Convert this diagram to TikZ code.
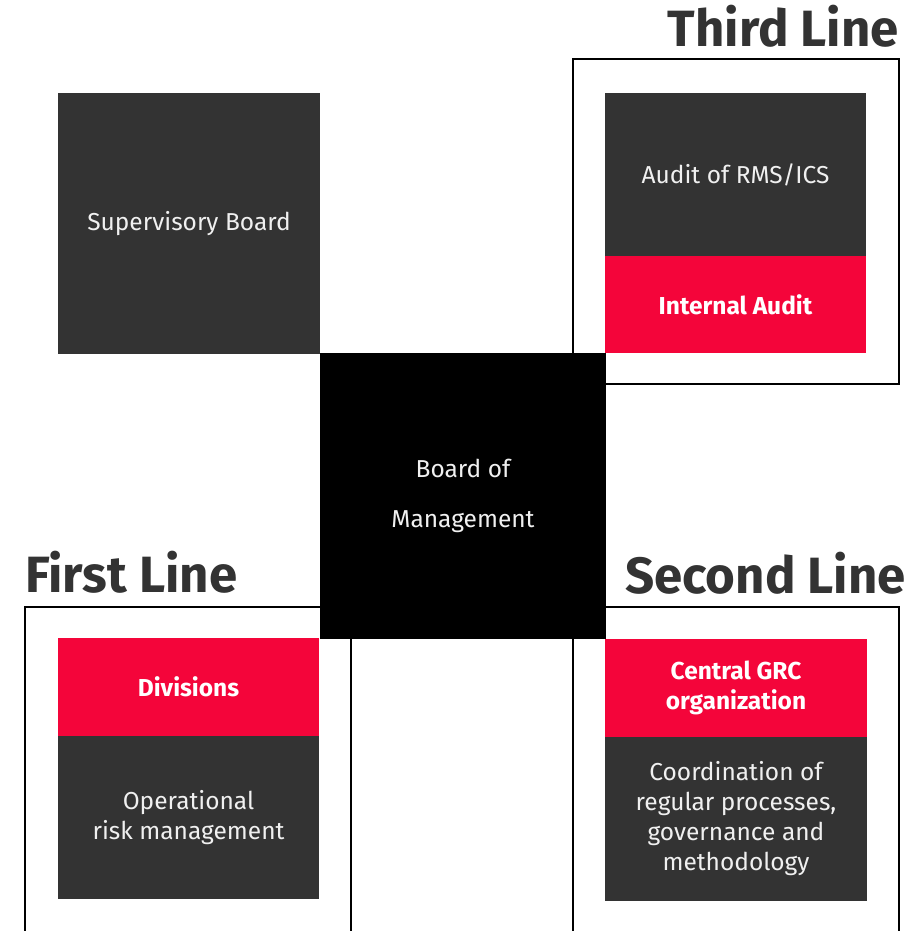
\documentclass[tikz,border=0pt]{standalone}
\usepackage{fontspec}
\setmainfont{Fira Sans}
\definecolor{boxgray}{HTML}{333333}
\definecolor{boxred}{HTML}{F4053A}
\definecolor{titlegray}{HTML}{333333}
\definecolor{bodywhite}{HTML}{F0F0F0}
\begin{document}
\begin{tikzpicture}[x=1pt,y=-1pt,
  frame/.style={draw=black,line width=2pt,fill=none},
  cell/.style={anchor=north west,inner sep=0pt,outer sep=0pt,minimum width=262pt,
    text=bodywhite,align=center,font=\fontsize{24.5}{30}\selectfont},
  graycell/.style={cell,fill=boxgray},
  redcell/.style={cell,fill=boxred,font=\fontsize{24.5}{30}\selectfont\bfseries,text=white},
  linetitle/.style={inner sep=0pt,text=titlegray,font=\fontsize{51}{54}\selectfont\bfseries}
]
\useasboundingbox (0,0) rectangle (921,931);
\clip (0,0) rectangle (921,931);
% frames
\draw[frame] (573,59) rectangle (899,384);
\coordinate (f1a) at (25,950); \coordinate (f1b) at (351,607);
\draw[frame] (f1a) |- (f1b) -- (351,950);
\coordinate (f2a) at (573,950); \coordinate (f2b) at (899,607);
\draw[frame] (f2a) |- (f2b) -- (899,950);
% titles
\node[linetitle,anchor=base east] (third) at (899,47) {Third Line};
\node[linetitle,anchor=base west] (first) at (25,592) {First Line};
\node[linetitle,anchor=base east] (second) at (906,593) {Second Line};
% boxes
\node[graycell,minimum height=261pt] (sup) at (58,93) {Supervisory Board};
\node[graycell,minimum width=261pt,minimum height=163pt] (audit) at (605,93) {Audit of RMS/ICS};
\node[redcell,minimum width=261pt,minimum height=97pt] (internal) at (audit.south west) {Internal Audit};
\node[cell,fill=black,minimum width=286pt,minimum height=286pt,font=\fontsize{24.5}{50}\selectfont] (bom) at (320,353) {Board of\\Management};
\node[redcell,minimum width=261pt,minimum height=98pt] (div) at (58,638) {Divisions};
\node[graycell,minimum width=261pt,minimum height=163pt] (oper) at (div.south west) {Operational\\risk management};
\node[redcell,minimum width=262pt,minimum height=98pt] (grc) at (605,639) {Central GRC\\organization};
\node[graycell,minimum width=262pt,minimum height=164pt] (coord) at (grc.south west) {Coordination of\\regular processes,\\governance and\\methodology};
\end{tikzpicture}
\end{document}
